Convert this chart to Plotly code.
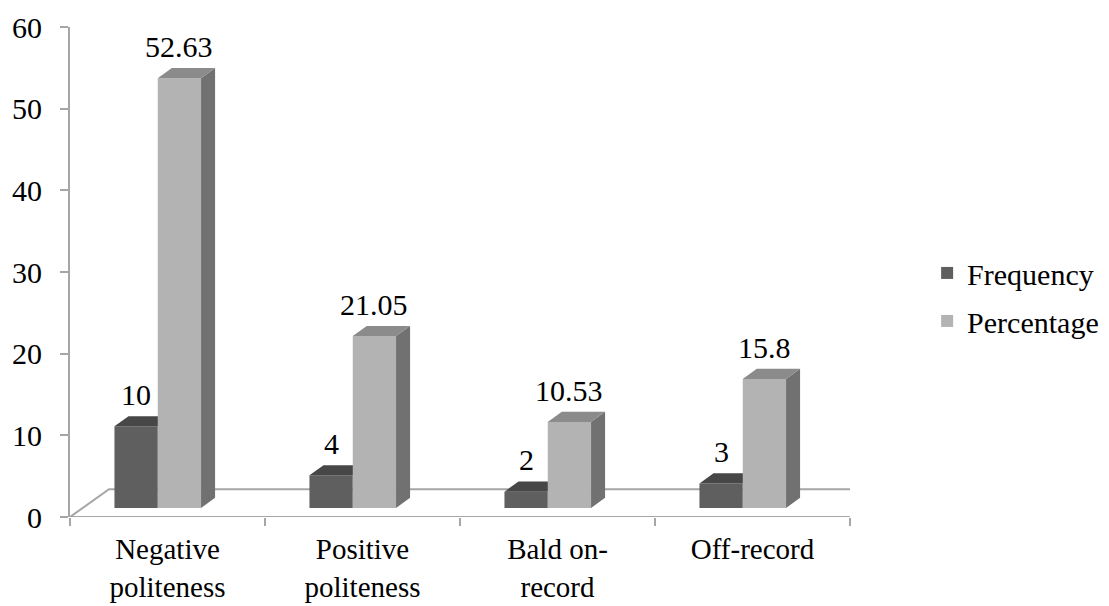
import plotly.graph_objects as go

# Data
categories = ["Negative<br>politeness", "Positive<br>politeness", "Bald on-<br>record", "Off-record"]
series_names = ["Frequency", "Percentage"]
frequency = [10, 4, 2, 3]
percentage = [52.63, 21.05, 10.53, 15.8]
frequency_labels = ["10", "4", "2", "3"]
percentage_labels = ["52.63", "21.05", "10.53", "15.8"]
y_ticks = [0, 10, 20, 30, 40, 50, 60]

# Geometry of the pseudo-3D columns (axis units)
centers = [i + 0.5 for i in range(len(categories))]
BAR_W = 0.222
OFFSETS = [-0.272, -0.050]
BASE = 1.1            # columns stand in the middle of the floor depth
DX, DY = 0.072, 1.25  # projected depth of a column
FLOOR_DX, FLOOR_DY = 0.2, 3.4

FRONT = ["#5f5f5f", "#b3b3b3"]
TOP = ["#474747", "#8b8b8b"]
SIDE = ["#3c3c3c", "#717171"]
AXIS_GREY = "#a6a6a6"
FONT = "'Times New Roman', 'Liberation Serif', 'DejaVu Serif', serif"
FS = 30
FS_CAT = 29

fig = go.Figure()


def polygon_trace(xs, ys, color):
    return go.Scatter(
        x=xs, y=ys, mode="lines", fill="toself", fillcolor=color,
        line=dict(width=0, color=color), cliponaxis=False,
        hoverinfo="skip", showlegend=False,
    )


# floor
n = len(categories)
fig.add_trace(go.Scatter(
    x=[0, n, n + FLOOR_DX, FLOOR_DX, 0],
    y=[0, 0, FLOOR_DY, FLOOR_DY, 0],
    mode="lines", line=dict(color=AXIS_GREY, width=2),
    cliponaxis=False, hoverinfo="skip", showlegend=False,
))

series = [frequency, percentage]
labels = [frequency_labels, percentage_labels]

# columns: side, front and top faces, painted back to front
for k, vals in enumerate(series):
    fx, fy, tx, ty, sx, sy = [], [], [], [], [], []
    for c, v in zip(centers, vals):
        xl = c + OFFSETS[k]
        xr = xl + BAR_W
        t = BASE + v
        fx += [xl, xr, xr, xl, xl, None]
        fy += [BASE, BASE, t, t, BASE, None]
        tx += [xl, xr, xr + DX, xl + DX, xl, None]
        ty += [t, t, t + DY, t + DY, t, None]
        sx += [xr, xr, xr + DX, xr + DX, xr, None]
        sy += [BASE, t, t + DY, BASE + DY, BASE, None]
    fig.add_trace(polygon_trace(sx, sy, SIDE[k]))
    fig.add_trace(polygon_trace(fx, fy, FRONT[k]))
    fig.add_trace(polygon_trace(tx, ty, TOP[k]))

# legend entries
for k, name in enumerate(series_names):
    fig.add_trace(go.Bar(
        x=[None], y=[None], name=name, legendgroup=name,
        marker=dict(color=FRONT[k], line=dict(width=0)), hoverinfo="skip",
    ))

# value labels
for k, vals in enumerate(series):
    for c, v, txt in zip(centers, vals, labels[k]):
        fig.add_annotation(
            x=c + OFFSETS[k] + BAR_W / 2, y=BASE + v + DY, text=txt,
            showarrow=False, xanchor="center", yanchor="bottom", yshift=3,
            font=dict(family=FONT, size=FS, color="black"),
        )

fig.update_layout(
    width=1109, height=606,
    margin=dict(l=70, r=259, t=27, b=89, autoexpand=False),
    paper_bgcolor="white", plot_bgcolor="white",
    font=dict(family=FONT, size=FS, color="black"),
    barmode="overlay",
    showlegend=True,
    legend=dict(
        xref="container", yref="container", x=0.836, y=0.51,
        xanchor="left", yanchor="middle",
        traceorder="grouped", tracegroupgap=6,
        font=dict(family=FONT, size=FS, color="black"),
        bgcolor="rgba(0,0,0,0)",
    ),
    xaxis=dict(
        range=[0, n], tickmode="array", tickvals=centers, ticktext=categories,
        ticks="", showline=False, showgrid=False, zeroline=False, automargin=False,
        tickfont=dict(family=FONT, size=FS_CAT, color="black"),
        ticklabelstandoff=12,
        minor=dict(tickmode="array", tickvals=list(range(n + 1)), ticks="outside",
                   ticklen=8, tickwidth=1.5, tickcolor=AXIS_GREY, showgrid=False),
    ),
    yaxis=dict(
        range=[0, 60], tickmode="array", tickvals=y_ticks,
        ticks="outside", ticklen=8, tickwidth=1.5, tickcolor=AXIS_GREY,
        showline=True, linecolor=AXIS_GREY, linewidth=2,
        showgrid=False, zeroline=False, automargin=False,
        tickfont=dict(family=FONT, size=FS, color="black"),
        ticklabelstandoff=12,
    ),
)

fig.write_html("out.html")
